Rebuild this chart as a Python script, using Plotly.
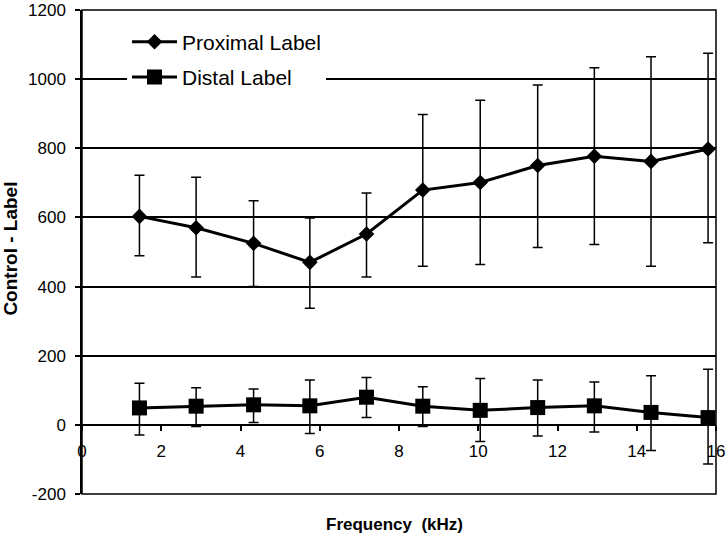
import plotly.graph_objects as go

freq = [1.45, 2.88, 4.33, 5.75, 7.18, 8.6, 10.05, 11.5, 12.93, 14.36, 15.8]

prox_mean = [603, 570, 525, 470, 552, 679, 701, 750, 777, 762, 798]
prox_upper = [722, 716, 648, 598, 671, 898, 939, 983, 1033, 1065, 1075]
prox_lower = [489, 428, 400, 337, 428, 459, 464, 513, 522, 459, 527]

dist_mean = [49, 54, 58, 55, 80, 54, 42, 50, 55, 36, 21]
dist_upper = [120, 107, 104, 130, 137, 110, 134, 130, 124, 142, 161]
dist_lower = [-29, -5, 7, -25, 21, -5, -48, -32, -21, -74, -113]

y_ticks = [-200, 0, 200, 400, 600, 800, 1000, 1200]
x_ticks = [0, 2, 4, 6, 8, 10, 12, 14, 16]

x_title = "Frequency  (kHz)"
y_title = "Control - Label"

def err(mean, up, lo):
    return dict(type="data", symmetric=False,
                array=[u - m for u, m in zip(up, mean)],
                arrayminus=[m - l for m, l in zip(mean, lo)],
                color="black", thickness=1.5, width=5)

fig = go.Figure()
fig.add_trace(go.Scatter(
    x=freq, y=prox_mean, name="Proximal Label", mode="lines+markers",
    line=dict(color="black", width=3),
    marker=dict(symbol="diamond", size=12, color="black"),
    error_y=err(prox_mean, prox_upper, prox_lower),
    legendgroup="a"))
fig.add_trace(go.Scatter(
    x=freq, y=dist_mean, name="Distal Label", mode="lines+markers",
    line=dict(color="black", width=3),
    marker=dict(symbol="square", size=15, color="black"),
    error_y=err(dist_mean, dist_upper, dist_lower),
    legendgroup="b"))

fig.update_layout(
    width=728, height=539,
    margin=dict(l=82, r=12, t=10, b=45, autoexpand=False),
    paper_bgcolor="white", plot_bgcolor="white",
    font=dict(family="Liberation Sans, Arial, sans-serif", color="black", size=17),
    showlegend=True,
    legend=dict(x=0.071, y=0.976, xanchor="left", yanchor="top",
                bgcolor="white", borderwidth=0, itemwidth=45,
                font=dict(size=21), traceorder="grouped", tracegroupgap=5),
    xaxis=dict(range=[0, 16], tickvals=x_ticks, ticktext=[str(v) for v in x_ticks],
               anchor="free", position=200/1400, automargin=False,
               showline=True, linecolor="black", linewidth=1.5,
               ticks="outside", ticklen=5, tickwidth=1.5, tickcolor="black",
               showgrid=False, zeroline=False, ticklabelstandoff=6),
    yaxis=dict(range=[-200, 1200], tickvals=y_ticks, ticktext=[str(v) for v in y_ticks],
               automargin=False,
               showline=True, linecolor="black", linewidth=1.5,
               ticks="outside", ticklen=5, tickwidth=1.5, tickcolor="black",
               showgrid=True, gridcolor="black", gridwidth=1.5,
               zeroline=False, ticklabelstandoff=6),
    shapes=[dict(type="rect", xref="paper", yref="paper", x0=0, x1=1, y0=0, y1=1,
                 line=dict(color="black", width=1.5), layer="above")],
    annotations=[
        dict(text="<b>" + x_title + "</b>", xref="paper", yref="paper",
             x=0.493, y=-0.064, xanchor="center", yanchor="middle",
             showarrow=False, font=dict(size=17)),
        dict(text="<b>" + y_title + "</b>", xref="paper", yref="paper",
             x=-0.112, y=0.507, xanchor="center", yanchor="middle",
             textangle=-90, showarrow=False, font=dict(size=19)),
    ],
)

fig.write_html("out.html", config={"displayModeBar": False},
               post_script="document.body.style.margin='0';document.body.style.overflow='hidden';")
